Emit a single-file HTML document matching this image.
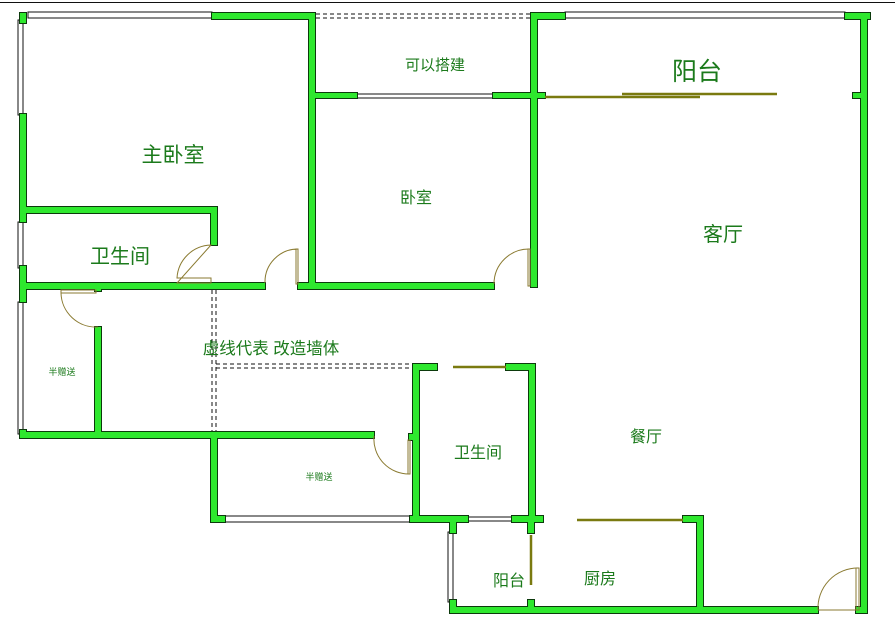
<!DOCTYPE html>
<html><head><meta charset="utf-8"><style>
html,body{margin:0;padding:0;background:#fff;width:895px;height:618px;overflow:hidden}
svg{display:block}
text{font-family:"Liberation Sans","Noto Sans CJK SC","WenQuanYi Zen Hei",sans-serif;fill:#1b7a1b}
.win{fill:#fff;stroke:#111;stroke-width:1}
.d{stroke:#111;stroke-width:1;stroke-dasharray:4,3;fill:none}
.door{fill:none;stroke:#8a7a30;stroke-width:1}
.sl{stroke:#7a7a10;stroke-width:2.5}
</style></head><body>
<svg width="895" height="618" viewBox="0 0 895 618" xmlns="http://www.w3.org/2000/svg" xmlns:xlink="http://www.w3.org/1999/xlink">
<defs>
<g id="walls">
<rect x="20" y="13" width="6" height="10"/>
<rect x="212" y="13" width="103" height="6"/>
<rect x="309" y="13" width="6" height="274"/>
<rect x="20" y="114" width="6" height="108"/>
<rect x="20" y="266" width="6" height="36"/>
<rect x="20" y="430" width="6" height="8"/>
<rect x="20" y="207" width="196" height="6"/>
<rect x="211" y="207" width="6" height="38"/>
<rect x="20" y="283" width="245" height="6"/>
<rect x="298" y="283" width="196" height="6"/>
<rect x="95" y="283" width="6" height="8"/>
<rect x="95" y="327" width="6" height="110"/>
<rect x="315" y="93" width="42" height="5"/>
<rect x="493" y="93" width="43" height="5"/>
<rect x="531" y="13" width="6" height="274"/>
<rect x="531" y="13" width="34" height="6"/>
<rect x="845" y="13" width="25" height="6"/>
<rect x="861" y="13" width="6" height="600"/>
<rect x="853" y="93" width="10" height="5"/>
<rect x="537" y="93" width="8" height="5"/>
<rect x="20" y="432" width="354" height="6"/>
<rect x="211" y="435" width="6" height="87"/>
<rect x="211" y="516" width="14" height="6"/>
<rect x="410" y="516" width="58" height="6"/>
<rect x="409" y="434" width="6" height="6"/>
<rect x="413" y="364" width="6" height="156"/>
<rect x="413" y="364" width="24" height="6"/>
<rect x="506" y="364" width="29" height="6"/>
<rect x="529" y="364" width="6" height="156"/>
<rect x="512" y="516" width="31" height="6"/>
<rect x="450" y="519" width="6" height="14"/>
<rect x="450" y="600" width="6" height="13"/>
<rect x="450" y="607" width="368" height="6"/>
<rect x="856" y="607" width="10" height="6"/>
<rect x="528" y="519" width="6" height="14"/>
<rect x="528" y="600" width="6" height="10"/>
<rect x="683" y="516" width="20" height="6"/>
<rect x="697" y="516" width="6" height="94"/>
</g>
</defs>
<line x1="0" y1="2.5" x2="895" y2="2.5" stroke="#111" stroke-width="1"/>
<line class="d" x1="316" y1="14" x2="534" y2="14"/>
<line class="d" x1="316" y1="18" x2="534" y2="18"/>
<line class="d" x1="212" y1="290" x2="212" y2="434"/>
<line class="d" x1="216" y1="290" x2="216" y2="434"/>
<line class="d" x1="216" y1="364" x2="413" y2="364"/>
<line class="d" x1="216" y1="368" x2="413" y2="368"/>
<rect class="win" x="28" y="12" width="184" height="6"/>
<rect class="win" x="18" y="20" width="5" height="95"/>
<rect class="win" x="18" y="222" width="5" height="46"/>
<rect class="win" x="18" y="302" width="5" height="132"/>
<rect class="win" x="357" y="94" width="136" height="4"/>
<rect class="win" x="565" y="12" width="280" height="6"/>
<rect class="win" x="225" y="516" width="187" height="6"/>
<rect class="win" x="468" y="517" width="44" height="4"/>
<rect class="win" x="448" y="532" width="5" height="70"/>
<use xlink:href="#walls" href="#walls" fill="#0c3a0c" stroke="#0c3a0c" stroke-width="2"/>
<use xlink:href="#walls" href="#walls" fill="#2ee82e"/>
<line class="sl" x1="545" y1="97" x2="700" y2="97"/>
<line class="sl" x1="622" y1="94" x2="777" y2="94"/>
<line class="sl" x1="453" y1="367" x2="506" y2="367"/>
<line class="sl" x1="577" y1="520" x2="683" y2="520"/>
<line class="sl" x1="531" y1="535" x2="531" y2="585"/>
<path class="door" d="M211 245 A35 35 0 0 0 177 278 L211 278 L211 283 L177 283 Z"/>
<path class="door" d="M298 249 A33 33 0 0 0 265 283 M296 249 L298 249 L298 284 L296 284 Z"/>
<path class="door" d="M530 249 A35 35 0 0 0 494 284 M528 249 L530 249 L530 286 L528 286 Z"/>
<path class="door" d="M61 293 L96 293 L96 290 L61 290 Z M61 293 A35 35 0 0 0 98 327"/>
<path class="door" d="M374 436 A35 35 0 0 0 410 474 M408 440 L410 440 L410 474 L408 474 Z"/>
<path class="door" d="M858 568 A40 40 0 0 0 818 610 M856 568 L859 568 L859 610 L856 610 Z M818 610 L858 610"/>
<text x="435" y="70" font-size="15" text-anchor="middle">可以搭建</text>
<text x="697" y="80" font-size="25" text-anchor="middle">阳台</text>
<text x="173" y="162" font-size="21" text-anchor="middle">主卧室</text>
<text x="416" y="203" font-size="16" text-anchor="middle">卧室</text>
<text x="723" y="241" font-size="20" text-anchor="middle">客厅</text>
<text x="120" y="263" font-size="20" text-anchor="middle">卫生间</text>
<text x="271" y="354" font-size="16.5" text-anchor="middle">虚线代表 改造墙体</text>
<text x="62" y="375" font-size="9" text-anchor="middle">半赠送</text>
<text x="319" y="480" font-size="9" text-anchor="middle">半赠送</text>
<text x="478" y="458" font-size="16" text-anchor="middle">卫生间</text>
<text x="646" y="442" font-size="16" text-anchor="middle">餐厅</text>
<text x="509" y="586" font-size="16" text-anchor="middle">阳台</text>
<text x="600" y="584" font-size="16" text-anchor="middle">厨房</text>
</svg>
</body></html>
